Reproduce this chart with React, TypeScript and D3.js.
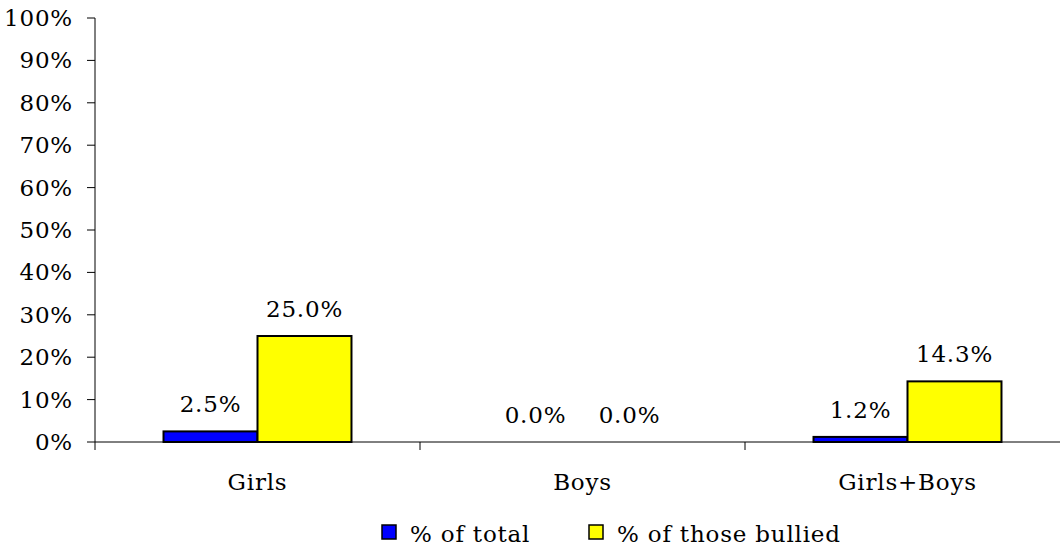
import React from 'react';
import * as d3 from 'd3';

const categories = ['Girls', 'Boys', 'Girls+Boys'];
const seriesNames = ['% of total', '% of those bullied'];
const seriesColors = ['#0000ff', '#ffff00'];
const pctOfTotal = [2.5, 0.0, 1.2];
const pctOfBullied = [25.0, 0.0, 14.3];
const yTicks = [0, 10, 20, 30, 40, 50, 60, 70, 80, 90, 100];

const W = 1060;
const H = 548;
const margin = { top: 18, right: -10, bottom: 106, left: 95 };
const font = '"DejaVu Serif", serif';
const fs = 23;
const ls = 0.8;

export default function App() {
  const innerW = W - margin.left - margin.right;
  const innerH = H - margin.top - margin.bottom;

  const x0 = d3.scaleBand().domain(categories).range([0, innerW]);
  const x1 = d3.scaleBand().domain(seriesNames).range([0, x0.bandwidth()]).paddingOuter(0.729);
  const y = d3.scaleLinear().domain([0, 100]).range([innerH, 0]);

  const values = [pctOfTotal, pctOfBullied];

  return (
    <svg width={W} height={H} style={{ position: 'absolute', left: 0, top: 0 }} fontFamily={font} fontSize={fs} letterSpacing={ls}>
      <g transform={`translate(${margin.left},${margin.top})`}>
        {/* bars */}
        {categories.map((c, ci) =>
          seriesNames.map((s, si) => {
            const v = values[si][ci];
            const bx = (x0(c) || 0) + (x1(s) || 0);
            return (
              <g key={c + s}>
                {v > 0 && (
                  <rect x={bx} y={y(v)} width={x1.bandwidth()} height={innerH - y(v)}
                    fill={seriesColors[si]} stroke="#000" strokeWidth={2} />
                )}
                <text x={bx + x1.bandwidth() / 2} y={y(v) - 19} textAnchor="middle" fill="#000">
                  {v.toFixed(1)}%
                </text>
              </g>
            );
          })
        )}

        {/* y axis */}
        <line x1={0} x2={0} y1={0} y2={innerH} stroke="#000" strokeWidth={1} />
        {yTicks.map(t => (
          <g key={t} transform={`translate(0,${y(t)})`}>
            <line x1={-8} x2={0} stroke="#000" />
            <text x={-22} dy="0.35em" textAnchor="end" fill="#000">{t}%</text>
          </g>
        ))}

        {/* x axis */}
        <line x1={0} x2={innerW} y1={innerH} y2={innerH} stroke="#000" strokeWidth={1} />
        {categories.map(c => (
          <line key={c + 't'} x1={x0(c) || 0} x2={x0(c) || 0} y1={innerH} y2={innerH + 8} stroke="#000" />
        ))}
        {categories.map(c => (
          <text key={c} x={(x0(c) || 0) + x0.bandwidth() / 2} y={innerH + 48} textAnchor="middle" fill="#000">
            {c}
          </text>
        ))}
      </g>

      {/* legend */}
      {seriesNames.map((s, i) => {
        const lx = i === 0 ? 382 : 589;
        return (
          <g key={s}>
            <rect x={lx} y={525} width={14} height={14} fill={seriesColors[i]} stroke="#000" strokeWidth={1.5} />
            <text x={lx + 28} y={542} fill="#000">{s}</text>
          </g>
        );
      })}
    </svg>
  );
}
